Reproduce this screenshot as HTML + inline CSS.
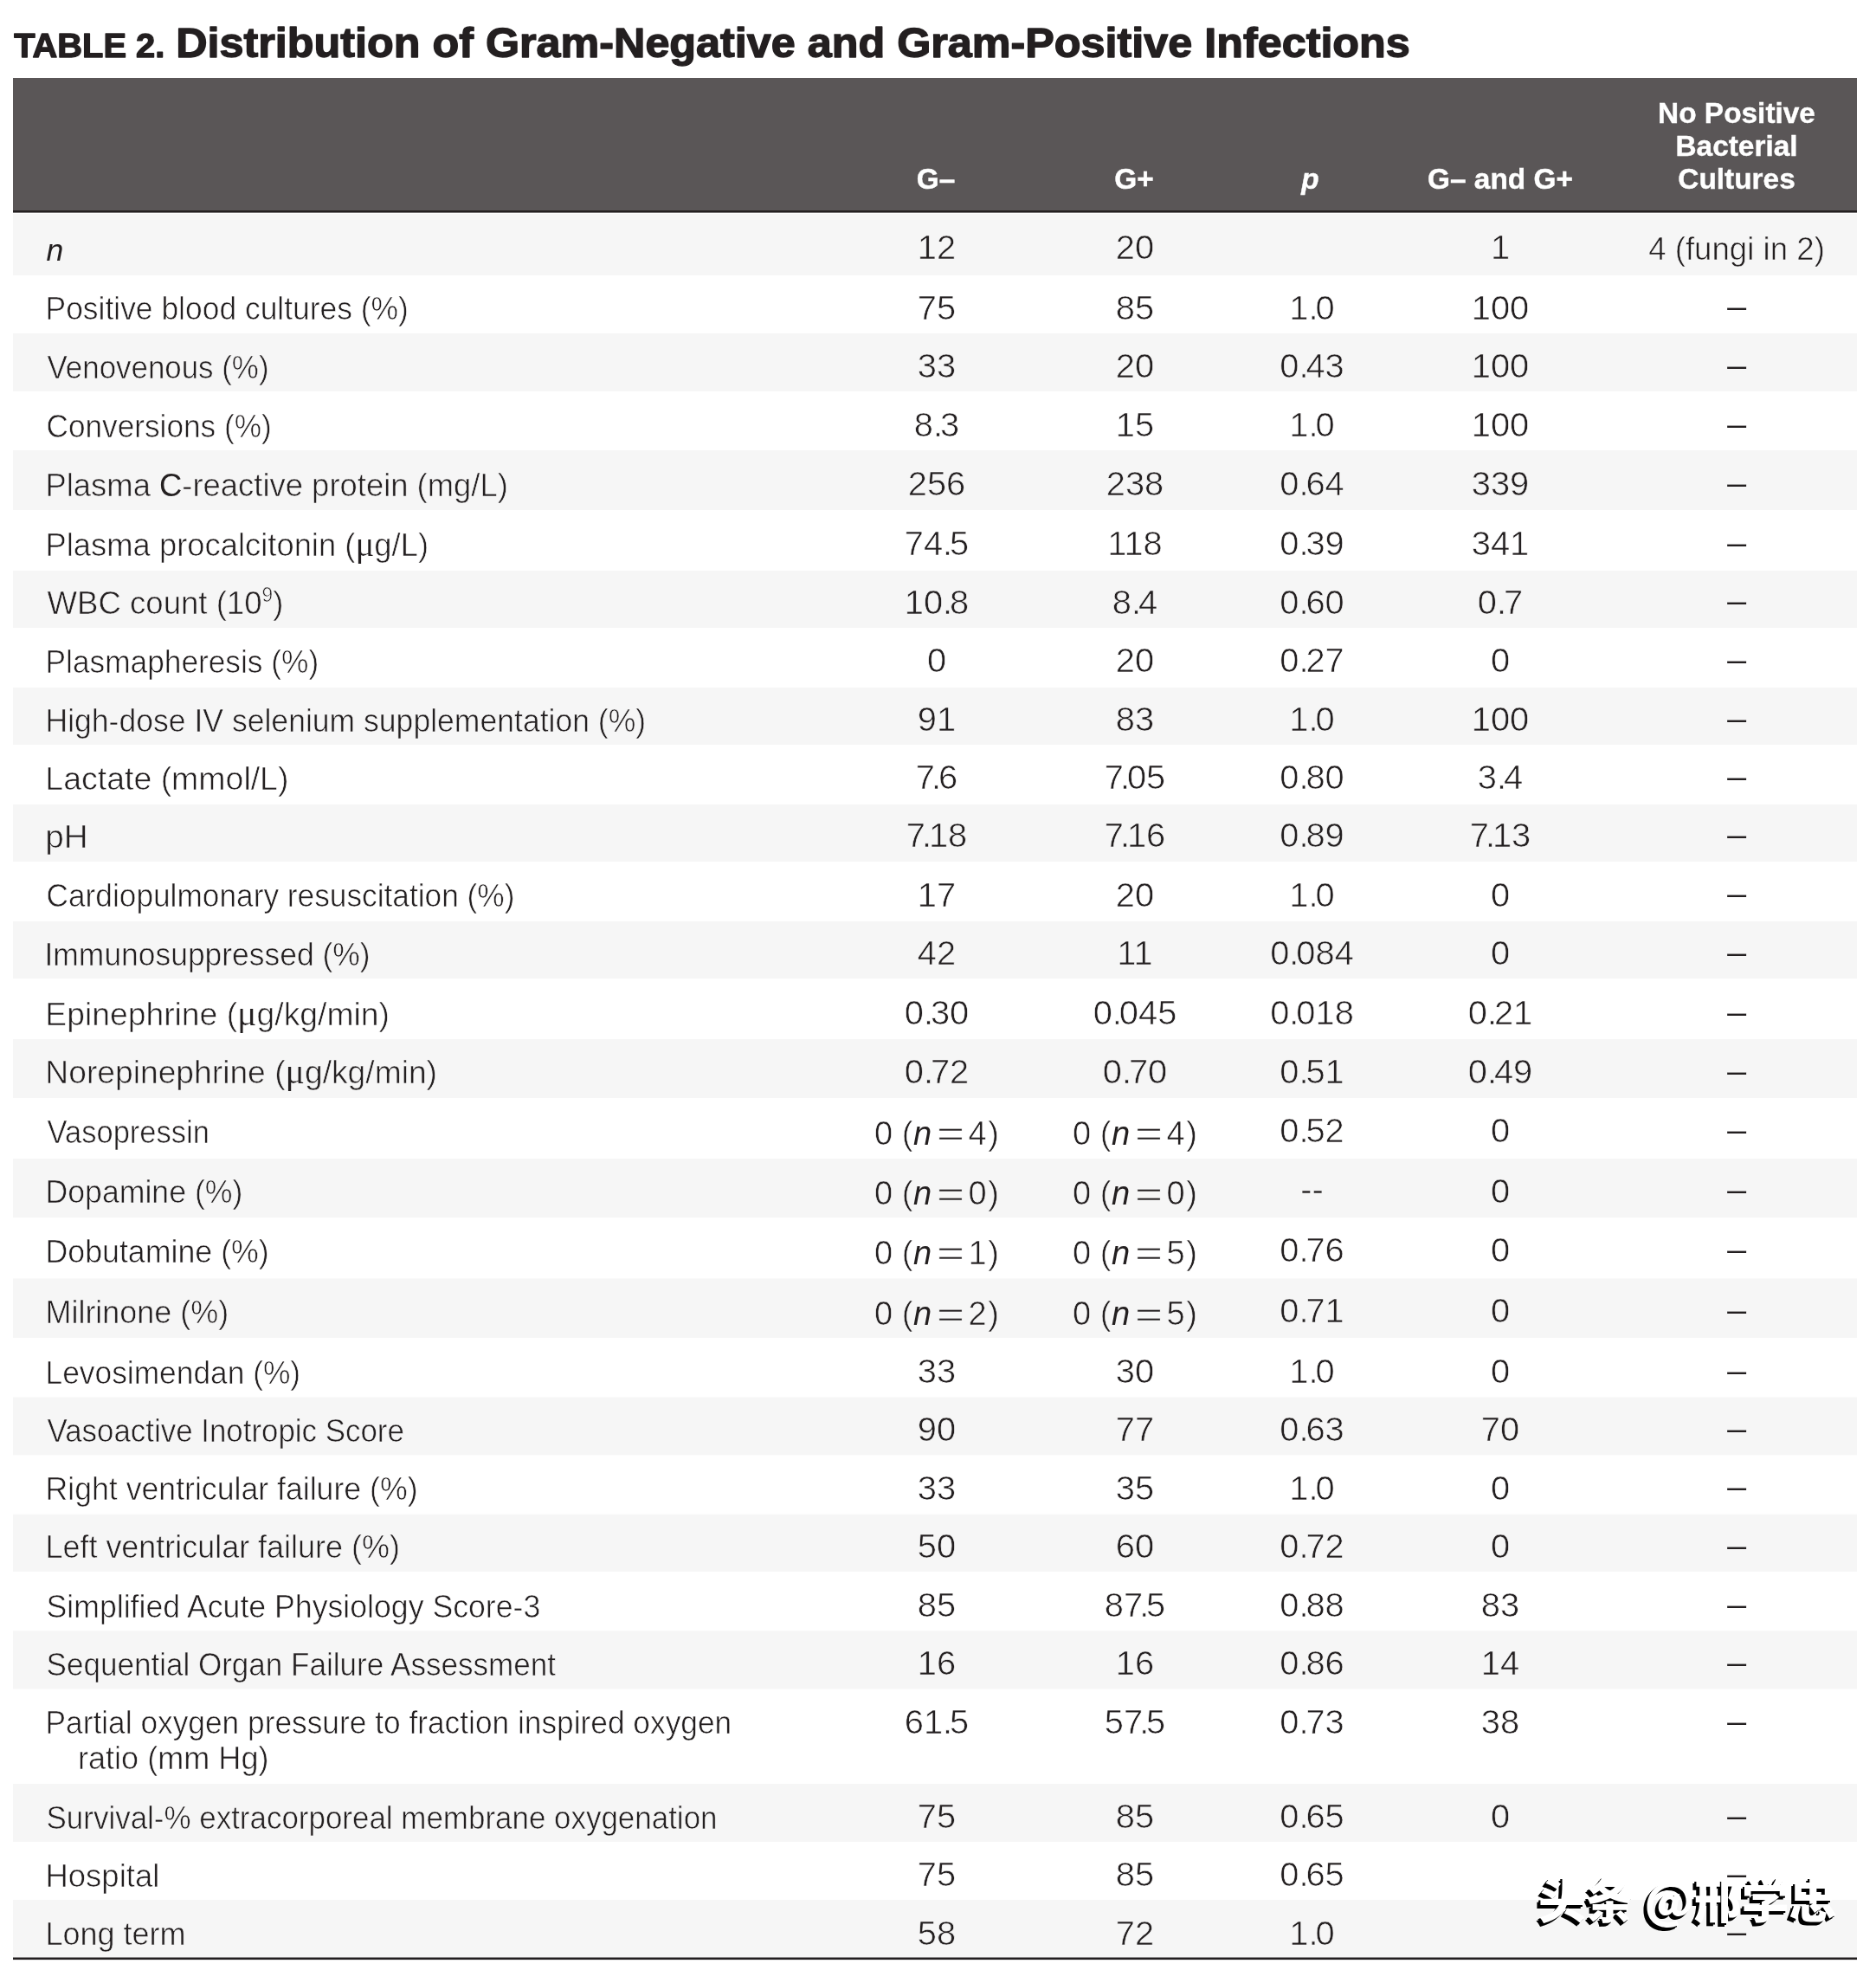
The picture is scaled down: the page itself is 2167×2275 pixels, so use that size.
<!DOCTYPE html>
<html><head><meta charset="utf-8"><title>Table 2. Distribution of Gram-Negative and Gram-Positive Infections</title>
<style>
html,body{margin:0;padding:0;background:#fff;}
body{width:2167px;height:2275px;overflow:hidden;}
svg{display:block;will-change:transform;}
text{font-family:"Liberation Sans",Arial,sans-serif;fill:#231f20;}
.b{font-size:35.6px;}
.h{font-size:33.4px;font-weight:bold;fill:#fff;stroke:#fff;stroke-width:0.4px;}
.wm{font-family:"Noto Sans CJK SC","WenQuanYi Zen Hei",sans-serif;}
</style></head><body>
<svg width="2167" height="2275" viewBox="0 0 2167 2275">
<rect x="0" y="0" width="2167" height="2275" fill="#fff"/>
<g stroke="#231f20" stroke-width="1.4" stroke-linejoin="round">
<text transform="translate(16.2 65.8) scale(1.006 1)" font-weight="bold" font-size="39.6">TABLE 2.</text>
<text transform="translate(203.2 65.9) scale(1.0375 1)" font-weight="bold" font-size="48.5">Distribution of Gram-Negative and Gram-Positive Infections</text>
</g>
<rect x="15" y="90" width="2130" height="154" fill="#5a5657"/>
<rect x="15" y="243" width="2130" height="2.6" fill="#231f20"/>
<text class="h" x="1081" y="218.1" text-anchor="middle">G–</text>
<text class="h" x="1310" y="218.1" text-anchor="middle">G+</text>
<text class="h" x="1513.5" y="218.1" text-anchor="middle" font-style="italic">p</text>
<text class="h" x="1733" y="218.1" text-anchor="middle">G– and G+</text>
<text class="h" x="2006" y="142.3" text-anchor="middle">No Positive</text>
<text class="h" x="2006" y="180.1" text-anchor="middle">Bacterial</text>
<text class="h" x="2006" y="218.1" text-anchor="middle">Cultures</text>
<rect x="15" y="246.8" width="2130" height="71.2" fill="#f6f6f6"/>
<rect x="15" y="385" width="2130" height="67.0" fill="#f6f6f6"/>
<rect x="15" y="520" width="2130" height="69.0" fill="#f6f6f6"/>
<rect x="15" y="659" width="2130" height="66.0" fill="#f6f6f6"/>
<rect x="15" y="794" width="2130" height="66.0" fill="#f6f6f6"/>
<rect x="15" y="929" width="2130" height="66.0" fill="#f6f6f6"/>
<rect x="15" y="1064" width="2130" height="66.0" fill="#f6f6f6"/>
<rect x="15" y="1200" width="2130" height="68.0" fill="#f6f6f6"/>
<rect x="15" y="1338" width="2130" height="68.0" fill="#f6f6f6"/>
<rect x="15" y="1476.5" width="2130" height="68.5" fill="#f6f6f6"/>
<rect x="15" y="1613.6" width="2130" height="66.7" fill="#f6f6f6"/>
<rect x="15" y="1748.8" width="2130" height="66.0" fill="#f6f6f6"/>
<rect x="15" y="1883.4" width="2130" height="67.0" fill="#f6f6f6"/>
<rect x="15" y="2060" width="2130" height="67.0" fill="#f6f6f6"/>
<rect x="15" y="2194" width="2130" height="66.4" fill="#f6f6f6"/>
<rect x="15" y="2260.5" width="2130" height="2.6" fill="#231f20"/>
<g stroke="#f6f6f6" stroke-width="0.6">
<text class="b" transform="translate(53.53 300.8) scale(1 1)" stroke-width="0"><tspan font-style="italic">n</tspan></text>
<text class="b" transform="translate(1082 299.2) scale(1.12 1.09)" text-anchor="middle">12</text>
<text class="b" transform="translate(1311 299.2) scale(1.12 1.09)" text-anchor="middle">20</text>
<text class="b" transform="translate(1733 299.2) scale(1.12 1.09)" text-anchor="middle">1</text>
<text class="b" transform="translate(2006 299.8) scale(1.03 1.06)" text-anchor="middle">4 (fungi in 2)</text>
</g>
<g stroke="#fff" stroke-width="0.6">
<text class="b" transform="translate(52.51 369.20000000000005) scale(0.9955 1.06)">Positive blood cultures (%)</text>
<text class="b" transform="translate(1082 368.6) scale(1.12 1.09)" text-anchor="middle">75</text>
<text class="b" transform="translate(1311 368.6) scale(1.12 1.09)" text-anchor="middle">85</text>
<text class="b" transform="translate(1515.5 368.6) scale(1.12 1.09)" text-anchor="middle">1.<tspan dx="-2.8">0</tspan></text>
<text class="b" transform="translate(1733 368.6) scale(1.12 1.09)" text-anchor="middle">100</text>
<text class="b" transform="translate(2006 367.40000000000003) scale(1.12 1.09)" text-anchor="middle" stroke-width="0.2">–</text>
</g>
<g stroke="#f6f6f6" stroke-width="0.6">
<text class="b" transform="translate(54.52 437.0) scale(0.9805 1.06)">Venovenous (%)</text>
<text class="b" transform="translate(1082 436.4) scale(1.12 1.09)" text-anchor="middle">33</text>
<text class="b" transform="translate(1311 436.4) scale(1.12 1.09)" text-anchor="middle">20</text>
<text class="b" transform="translate(1515.5 436.4) scale(1.12 1.09)" text-anchor="middle">0.<tspan dx="-2.8">43</tspan></text>
<text class="b" transform="translate(1733 436.4) scale(1.12 1.09)" text-anchor="middle">100</text>
<text class="b" transform="translate(2006 435.2) scale(1.12 1.09)" text-anchor="middle" stroke-width="0.2">–</text>
</g>
<g stroke="#fff" stroke-width="0.6">
<text class="b" transform="translate(53.52 504.8) scale(0.9892 1.06)">Conversions (%)</text>
<text class="b" transform="translate(1082 504.2) scale(1.12 1.09)" text-anchor="middle">8.<tspan dx="-2.8">3</tspan></text>
<text class="b" transform="translate(1311 504.2) scale(1.12 1.09)" text-anchor="middle">15</text>
<text class="b" transform="translate(1515.5 504.2) scale(1.12 1.09)" text-anchor="middle">1.<tspan dx="-2.8">0</tspan></text>
<text class="b" transform="translate(1733 504.2) scale(1.12 1.09)" text-anchor="middle">100</text>
<text class="b" transform="translate(2006 503.0) scale(1.12 1.09)" text-anchor="middle" stroke-width="0.2">–</text>
</g>
<g stroke="#f6f6f6" stroke-width="0.6">
<text class="b" transform="translate(52.43 572.9) scale(1.0236 1.06)">Plasma <tspan stroke-width="0">C</tspan>-reactive protein (mg/L)</text>
<text class="b" transform="translate(1082 572.3) scale(1.12 1.09)" text-anchor="middle">256</text>
<text class="b" transform="translate(1311 572.3) scale(1.12 1.09)" text-anchor="middle">238</text>
<text class="b" transform="translate(1515.5 572.3) scale(1.12 1.09)" text-anchor="middle">0.<tspan dx="-2.8">64</tspan></text>
<text class="b" transform="translate(1733 572.3) scale(1.12 1.09)" text-anchor="middle">339</text>
<text class="b" transform="translate(2006 571.1) scale(1.12 1.09)" text-anchor="middle" stroke-width="0.2">–</text>
</g>
<g stroke="#fff" stroke-width="0.6">
<text class="b" transform="translate(52.44 641.5) scale(1.0225 1.06)">Plasma procalcitonin (<tspan font-family="Liberation Serif" font-size="40" stroke-width="0.2">μ</tspan>g/L)</text>
<text class="b" transform="translate(1082 640.9) scale(1.12 1.09)" text-anchor="middle">74.<tspan dx="-2.8">5</tspan></text>
<text class="b" transform="translate(1311 640.9) scale(1.12 1.09)" text-anchor="middle">118</text>
<text class="b" transform="translate(1515.5 640.9) scale(1.12 1.09)" text-anchor="middle">0.<tspan dx="-2.8">39</tspan></text>
<text class="b" transform="translate(1733 640.9) scale(1.12 1.09)" text-anchor="middle">341</text>
<text class="b" transform="translate(2006 639.7) scale(1.12 1.09)" text-anchor="middle" stroke-width="0.2">–</text>
</g>
<g stroke="#f6f6f6" stroke-width="0.6">
<text class="b" transform="translate(54.47 709.2) scale(1.0283 1.06)">WBC count (10<tspan font-size="22" dy="-13">9</tspan><tspan dy="13">)</tspan></text>
<text class="b" transform="translate(1082 708.6) scale(1.12 1.09)" text-anchor="middle">10.<tspan dx="-2.8">8</tspan></text>
<text class="b" transform="translate(1311 708.6) scale(1.12 1.09)" text-anchor="middle">8.<tspan dx="-2.8">4</tspan></text>
<text class="b" transform="translate(1515.5 708.6) scale(1.12 1.09)" text-anchor="middle">0.<tspan dx="-2.8">60</tspan></text>
<text class="b" transform="translate(1733 708.6) scale(1.12 1.09)" text-anchor="middle">0.<tspan dx="-2.8">7</tspan></text>
<text class="b" transform="translate(2006 707.4000000000001) scale(1.12 1.09)" text-anchor="middle" stroke-width="0.2">–</text>
</g>
<g stroke="#fff" stroke-width="0.6">
<text class="b" transform="translate(52.53 776.6) scale(0.9913 1.06)">Plasmapheresis (%)</text>
<text class="b" transform="translate(1082 776.0) scale(1.12 1.09)" text-anchor="middle">0</text>
<text class="b" transform="translate(1311 776.0) scale(1.12 1.09)" text-anchor="middle">20</text>
<text class="b" transform="translate(1515.5 776.0) scale(1.12 1.09)" text-anchor="middle">0.<tspan dx="-2.8">27</tspan></text>
<text class="b" transform="translate(1733 776.0) scale(1.12 1.09)" text-anchor="middle">0</text>
<text class="b" transform="translate(2006 774.8000000000001) scale(1.12 1.09)" text-anchor="middle" stroke-width="0.2">–</text>
</g>
<g stroke="#f6f6f6" stroke-width="0.6">
<text class="b" transform="translate(52.49 844.5) scale(0.999 1.06)">High-dose IV selenium supplementation (%)</text>
<text class="b" transform="translate(1082 843.9) scale(1.12 1.09)" text-anchor="middle">91</text>
<text class="b" transform="translate(1311 843.9) scale(1.12 1.09)" text-anchor="middle">83</text>
<text class="b" transform="translate(1515.5 843.9) scale(1.12 1.09)" text-anchor="middle">1.<tspan dx="-2.8">0</tspan></text>
<text class="b" transform="translate(1733 843.9) scale(1.12 1.09)" text-anchor="middle">100</text>
<text class="b" transform="translate(2006 842.7) scale(1.12 1.09)" text-anchor="middle" stroke-width="0.2">–</text>
</g>
<g stroke="#fff" stroke-width="0.6">
<text class="b" transform="translate(52.33 911.6) scale(1.0529 1.06)">Lactate (mmol/L)</text>
<text class="b" transform="translate(1082 911.0) scale(1.12 1.09)" text-anchor="middle">7<tspan dx="-3.5">.</tspan><tspan dx="-2.8">6</tspan></text>
<text class="b" transform="translate(1311 911.0) scale(1.12 1.09)" text-anchor="middle">7<tspan dx="-3.5">.</tspan><tspan dx="-2.8">05</tspan></text>
<text class="b" transform="translate(1515.5 911.0) scale(1.12 1.09)" text-anchor="middle">0.<tspan dx="-2.8">80</tspan></text>
<text class="b" transform="translate(1733 911.0) scale(1.12 1.09)" text-anchor="middle">3.<tspan dx="-2.8">4</tspan></text>
<text class="b" transform="translate(2006 909.8000000000001) scale(1.12 1.09)" text-anchor="middle" stroke-width="0.2">–</text>
</g>
<g stroke="#f6f6f6" stroke-width="0.6">
<text class="b" transform="translate(52.23 979.0) scale(1.0878 1.06)">pH</text>
<text class="b" transform="translate(1082 978.4) scale(1.12 1.09)" text-anchor="middle">7<tspan dx="-3.5">.</tspan><tspan dx="-2.8">18</tspan></text>
<text class="b" transform="translate(1311 978.4) scale(1.12 1.09)" text-anchor="middle">7<tspan dx="-3.5">.</tspan><tspan dx="-2.8">16</tspan></text>
<text class="b" transform="translate(1515.5 978.4) scale(1.12 1.09)" text-anchor="middle">0.<tspan dx="-2.8">89</tspan></text>
<text class="b" transform="translate(1733 978.4) scale(1.12 1.09)" text-anchor="middle">7<tspan dx="-3.5">.</tspan><tspan dx="-2.8">13</tspan></text>
<text class="b" transform="translate(2006 977.2) scale(1.12 1.09)" text-anchor="middle" stroke-width="0.2">–</text>
</g>
<g stroke="#fff" stroke-width="0.6">
<text class="b" transform="translate(53.52 1047.1) scale(0.9908 1.06)">Cardiopulmonary resuscitation (%)</text>
<text class="b" transform="translate(1082 1046.5) scale(1.12 1.09)" text-anchor="middle">17</text>
<text class="b" transform="translate(1311 1046.5) scale(1.12 1.09)" text-anchor="middle">20</text>
<text class="b" transform="translate(1515.5 1046.5) scale(1.12 1.09)" text-anchor="middle">1.<tspan dx="-2.8">0</tspan></text>
<text class="b" transform="translate(1733 1046.5) scale(1.12 1.09)" text-anchor="middle">0</text>
<text class="b" transform="translate(2006 1045.3) scale(1.12 1.09)" text-anchor="middle" stroke-width="0.2">–</text>
</g>
<g stroke="#f6f6f6" stroke-width="0.6">
<text class="b" transform="translate(51.52 1114.6) scale(0.9955 1.06)">Immunosuppressed (%)</text>
<text class="b" transform="translate(1082 1114.0) scale(1.12 1.09)" text-anchor="middle">42</text>
<text class="b" transform="translate(1311 1114.0) scale(1.12 1.09)" text-anchor="middle">11</text>
<text class="b" transform="translate(1515.5 1114.0) scale(1.12 1.09)" text-anchor="middle">0.<tspan dx="-2.8">084</tspan></text>
<text class="b" transform="translate(1733 1114.0) scale(1.12 1.09)" text-anchor="middle">0</text>
<text class="b" transform="translate(2006 1112.8) scale(1.12 1.09)" text-anchor="middle" stroke-width="0.2">–</text>
</g>
<g stroke="#fff" stroke-width="0.6">
<text class="b" transform="translate(52.35 1183.6) scale(1.0477 1.06)">Epinephrine (<tspan font-family="Liberation Serif" font-size="40" stroke-width="0.2">μ</tspan>g/kg/min)</text>
<text class="b" transform="translate(1082 1183.0) scale(1.12 1.09)" text-anchor="middle">0.<tspan dx="-2.8">30</tspan></text>
<text class="b" transform="translate(1311 1183.0) scale(1.12 1.09)" text-anchor="middle">0.<tspan dx="-2.8">045</tspan></text>
<text class="b" transform="translate(1515.5 1183.0) scale(1.12 1.09)" text-anchor="middle">0.<tspan dx="-2.8">018</tspan></text>
<text class="b" transform="translate(1733 1183.0) scale(1.12 1.09)" text-anchor="middle">0.<tspan dx="-2.8">21</tspan></text>
<text class="b" transform="translate(2006 1181.8) scale(1.12 1.09)" text-anchor="middle" stroke-width="0.2">–</text>
</g>
<g stroke="#f6f6f6" stroke-width="0.6">
<text class="b" transform="translate(52.36 1251.3999999999999) scale(1.0455 1.06)">Norepinephrine (<tspan font-family="Liberation Serif" font-size="40" stroke-width="0.2">μ</tspan>g/kg/min)</text>
<text class="b" transform="translate(1082 1250.8) scale(1.12 1.09)" text-anchor="middle">0.<tspan dx="-2.8">72</tspan></text>
<text class="b" transform="translate(1311 1250.8) scale(1.12 1.09)" text-anchor="middle">0.<tspan dx="-2.8">70</tspan></text>
<text class="b" transform="translate(1515.5 1250.8) scale(1.12 1.09)" text-anchor="middle">0.<tspan dx="-2.8">51</tspan></text>
<text class="b" transform="translate(1733 1250.8) scale(1.12 1.09)" text-anchor="middle">0.<tspan dx="-2.8">49</tspan></text>
<text class="b" transform="translate(2006 1249.6) scale(1.12 1.09)" text-anchor="middle" stroke-width="0.2">–</text>
</g>
<g stroke="#fff" stroke-width="0.6">
<text class="b" transform="translate(54.53 1319.6) scale(0.9695 1.06)">Vasopressin</text>
<text class="b" transform="translate(1082 1321.5) scale(1.07 1.09)" text-anchor="middle">0 (<tspan dx="0.5" font-style="italic" stroke-width="0">n</tspan><tspan dy="1.8" dx="5.5" textLength="30" lengthAdjust="spacingAndGlyphs">=</tspan><tspan dy="-1.8" dx="4">4</tspan><tspan dx="1.5">)</tspan></text>
<text class="b" transform="translate(1311 1321.5) scale(1.07 1.09)" text-anchor="middle">0 (<tspan dx="0.5" font-style="italic" stroke-width="0">n</tspan><tspan dy="1.8" dx="5.5" textLength="30" lengthAdjust="spacingAndGlyphs">=</tspan><tspan dy="-1.8" dx="4">4</tspan><tspan dx="1.5">)</tspan></text>
<text class="b" transform="translate(1515.5 1319.0) scale(1.12 1.09)" text-anchor="middle">0.<tspan dx="-2.8">52</tspan></text>
<text class="b" transform="translate(1733 1319.0) scale(1.12 1.09)" text-anchor="middle">0</text>
<text class="b" transform="translate(2006 1317.8) scale(1.12 1.09)" text-anchor="middle" stroke-width="0.2">–</text>
</g>
<g stroke="#f6f6f6" stroke-width="0.6">
<text class="b" transform="translate(52.5 1389.1999999999998) scale(1.0018 1.06)">Dopamine (%)</text>
<text class="b" transform="translate(1082 1391.1) scale(1.07 1.09)" text-anchor="middle">0 (<tspan dx="0.5" font-style="italic" stroke-width="0">n</tspan><tspan dy="1.8" dx="5.5" textLength="30" lengthAdjust="spacingAndGlyphs">=</tspan><tspan dy="-1.8" dx="4">0</tspan><tspan dx="1.5">)</tspan></text>
<text class="b" transform="translate(1311 1391.1) scale(1.07 1.09)" text-anchor="middle">0 (<tspan dx="0.5" font-style="italic" stroke-width="0">n</tspan><tspan dy="1.8" dx="5.5" textLength="30" lengthAdjust="spacingAndGlyphs">=</tspan><tspan dy="-1.8" dx="4">0</tspan><tspan dx="1.5">)</tspan></text>
<text class="b" transform="translate(1515.5 1386.6) scale(1.12 1.09)" text-anchor="middle">--</text>
<text class="b" transform="translate(1733 1388.6) scale(1.12 1.09)" text-anchor="middle">0</text>
<text class="b" transform="translate(2006 1387.3999999999999) scale(1.12 1.09)" text-anchor="middle" stroke-width="0.2">–</text>
</g>
<g stroke="#fff" stroke-width="0.6">
<text class="b" transform="translate(52.49 1457.6) scale(1.004 1.06)">Dobutamine (%)</text>
<text class="b" transform="translate(1082 1459.5) scale(1.07 1.09)" text-anchor="middle">0 (<tspan dx="0.5" font-style="italic" stroke-width="0">n</tspan><tspan dy="1.8" dx="5.5" textLength="30" lengthAdjust="spacingAndGlyphs">=</tspan><tspan dy="-1.8" dx="4">1</tspan><tspan dx="1.5">)</tspan></text>
<text class="b" transform="translate(1311 1459.5) scale(1.07 1.09)" text-anchor="middle">0 (<tspan dx="0.5" font-style="italic" stroke-width="0">n</tspan><tspan dy="1.8" dx="5.5" textLength="30" lengthAdjust="spacingAndGlyphs">=</tspan><tspan dy="-1.8" dx="4">5</tspan><tspan dx="1.5">)</tspan></text>
<text class="b" transform="translate(1515.5 1457.0) scale(1.12 1.09)" text-anchor="middle">0.<tspan dx="-2.8">76</tspan></text>
<text class="b" transform="translate(1733 1457.0) scale(1.12 1.09)" text-anchor="middle">0</text>
<text class="b" transform="translate(2006 1455.8) scale(1.12 1.09)" text-anchor="middle" stroke-width="0.2">–</text>
</g>
<g stroke="#f6f6f6" stroke-width="0.6">
<text class="b" transform="translate(52.47 1527.8999999999999) scale(1.0098 1.06)">Milrinone (%)</text>
<text class="b" transform="translate(1082 1529.8) scale(1.07 1.09)" text-anchor="middle">0 (<tspan dx="0.5" font-style="italic" stroke-width="0">n</tspan><tspan dy="1.8" dx="5.5" textLength="30" lengthAdjust="spacingAndGlyphs">=</tspan><tspan dy="-1.8" dx="4">2</tspan><tspan dx="1.5">)</tspan></text>
<text class="b" transform="translate(1311 1529.8) scale(1.07 1.09)" text-anchor="middle">0 (<tspan dx="0.5" font-style="italic" stroke-width="0">n</tspan><tspan dy="1.8" dx="5.5" textLength="30" lengthAdjust="spacingAndGlyphs">=</tspan><tspan dy="-1.8" dx="4">5</tspan><tspan dx="1.5">)</tspan></text>
<text class="b" transform="translate(1515.5 1527.3) scale(1.12 1.09)" text-anchor="middle">0.<tspan dx="-2.8">71</tspan></text>
<text class="b" transform="translate(1733 1527.3) scale(1.12 1.09)" text-anchor="middle">0</text>
<text class="b" transform="translate(2006 1526.1) scale(1.12 1.09)" text-anchor="middle" stroke-width="0.2">–</text>
</g>
<g stroke="#fff" stroke-width="0.6">
<text class="b" transform="translate(52.52 1597.6) scale(0.9931 1.06)">Levosimendan (%)</text>
<text class="b" transform="translate(1082 1597.0) scale(1.12 1.09)" text-anchor="middle">33</text>
<text class="b" transform="translate(1311 1597.0) scale(1.12 1.09)" text-anchor="middle">30</text>
<text class="b" transform="translate(1515.5 1597.0) scale(1.12 1.09)" text-anchor="middle">1.<tspan dx="-2.8">0</tspan></text>
<text class="b" transform="translate(1733 1597.0) scale(1.12 1.09)" text-anchor="middle">0</text>
<text class="b" transform="translate(2006 1595.8) scale(1.12 1.09)" text-anchor="middle" stroke-width="0.2">–</text>
</g>
<g stroke="#f6f6f6" stroke-width="0.6">
<text class="b" transform="translate(54.52 1664.8999999999999) scale(0.9802 1.06)">Vasoactive Inotropic Score</text>
<text class="b" transform="translate(1082 1664.3) scale(1.12 1.09)" text-anchor="middle">90</text>
<text class="b" transform="translate(1311 1664.3) scale(1.12 1.09)" text-anchor="middle">77</text>
<text class="b" transform="translate(1515.5 1664.3) scale(1.12 1.09)" text-anchor="middle">0.<tspan dx="-2.8">63</tspan></text>
<text class="b" transform="translate(1733 1664.3) scale(1.12 1.09)" text-anchor="middle">70</text>
<text class="b" transform="translate(2006 1663.1) scale(1.12 1.09)" text-anchor="middle" stroke-width="0.2">–</text>
</g>
<g stroke="#fff" stroke-width="0.6">
<text class="b" transform="translate(52.49 1732.1999999999998) scale(1.0021 1.06)">Right ventricular failure (%)</text>
<text class="b" transform="translate(1082 1731.6) scale(1.12 1.09)" text-anchor="middle">33</text>
<text class="b" transform="translate(1311 1731.6) scale(1.12 1.09)" text-anchor="middle">35</text>
<text class="b" transform="translate(1515.5 1731.6) scale(1.12 1.09)" text-anchor="middle">1.<tspan dx="-2.8">0</tspan></text>
<text class="b" transform="translate(1733 1731.6) scale(1.12 1.09)" text-anchor="middle">0</text>
<text class="b" transform="translate(2006 1730.3999999999999) scale(1.12 1.09)" text-anchor="middle" stroke-width="0.2">–</text>
</g>
<g stroke="#f6f6f6" stroke-width="0.6">
<text class="b" transform="translate(52.46 1799.3999999999999) scale(1.0095 1.06)">Left ventricular failure (%)</text>
<text class="b" transform="translate(1082 1798.8) scale(1.12 1.09)" text-anchor="middle">50</text>
<text class="b" transform="translate(1311 1798.8) scale(1.12 1.09)" text-anchor="middle">60</text>
<text class="b" transform="translate(1515.5 1798.8) scale(1.12 1.09)" text-anchor="middle">0.<tspan dx="-2.8">72</tspan></text>
<text class="b" transform="translate(1733 1798.8) scale(1.12 1.09)" text-anchor="middle">0</text>
<text class="b" transform="translate(2006 1797.6) scale(1.12 1.09)" text-anchor="middle" stroke-width="0.2">–</text>
</g>
<g stroke="#fff" stroke-width="0.6">
<text class="b" transform="translate(53.49 1868.0) scale(1.002 1.06)">Simplified Acute Physiology Score-3</text>
<text class="b" transform="translate(1082 1867.4) scale(1.12 1.09)" text-anchor="middle">85</text>
<text class="b" transform="translate(1311 1867.4) scale(1.12 1.09)" text-anchor="middle">87<tspan dx="-3.5">.</tspan><tspan dx="-2.8">5</tspan></text>
<text class="b" transform="translate(1515.5 1867.4) scale(1.12 1.09)" text-anchor="middle">0.<tspan dx="-2.8">88</tspan></text>
<text class="b" transform="translate(1733 1867.4) scale(1.12 1.09)" text-anchor="middle">83</text>
<text class="b" transform="translate(2006 1866.2) scale(1.12 1.09)" text-anchor="middle" stroke-width="0.2">–</text>
</g>
<g stroke="#f6f6f6" stroke-width="0.6">
<text class="b" transform="translate(53.54 1934.6) scale(0.9852 1.06)">Sequential Organ Failure Assessment</text>
<text class="b" transform="translate(1082 1934.0) scale(1.12 1.09)" text-anchor="middle">16</text>
<text class="b" transform="translate(1311 1934.0) scale(1.12 1.09)" text-anchor="middle">16</text>
<text class="b" transform="translate(1515.5 1934.0) scale(1.12 1.09)" text-anchor="middle">0.<tspan dx="-2.8">86</tspan></text>
<text class="b" transform="translate(1733 1934.0) scale(1.12 1.09)" text-anchor="middle">14</text>
<text class="b" transform="translate(2006 1932.8) scale(1.12 1.09)" text-anchor="middle" stroke-width="0.2">–</text>
</g>
<g stroke="#fff" stroke-width="0.6">
<text class="b" transform="translate(52.53 2002.3999999999999) scale(0.9918 1.06)">Partial oxygen pressure to fraction inspired oxygen</text>
<text class="b" transform="translate(1082 2001.8) scale(1.12 1.09)" text-anchor="middle">61.<tspan dx="-2.8">5</tspan></text>
<text class="b" transform="translate(1311 2001.8) scale(1.12 1.09)" text-anchor="middle">57<tspan dx="-3.5">.</tspan><tspan dx="-2.8">5</tspan></text>
<text class="b" transform="translate(1515.5 2001.8) scale(1.12 1.09)" text-anchor="middle">0.<tspan dx="-2.8">73</tspan></text>
<text class="b" transform="translate(1733 2001.8) scale(1.12 1.09)" text-anchor="middle">38</text>
<text class="b" transform="translate(2006 2000.6) scale(1.12 1.09)" text-anchor="middle" stroke-width="0.2">–</text>
</g>
<g stroke="#f6f6f6" stroke-width="0.6">
<text class="b" transform="translate(53.55 2111.6) scale(0.9819 1.06)">Survival-% extracorporeal membrane oxygenation</text>
<text class="b" transform="translate(1082 2111.0) scale(1.12 1.09)" text-anchor="middle">75</text>
<text class="b" transform="translate(1311 2111.0) scale(1.12 1.09)" text-anchor="middle">85</text>
<text class="b" transform="translate(1515.5 2111.0) scale(1.12 1.09)" text-anchor="middle">0.<tspan dx="-2.8">65</tspan></text>
<text class="b" transform="translate(1733 2111.0) scale(1.12 1.09)" text-anchor="middle">0</text>
<text class="b" transform="translate(2006 2109.7999999999997) scale(1.12 1.09)" text-anchor="middle" stroke-width="0.2">–</text>
</g>
<g stroke="#fff" stroke-width="0.6">
<text class="b" transform="translate(52.42 2178.9) scale(1.0261 1.06)">Hospital</text>
<text class="b" transform="translate(1082 2178.3) scale(1.12 1.09)" text-anchor="middle">75</text>
<text class="b" transform="translate(1311 2178.3) scale(1.12 1.09)" text-anchor="middle">85</text>
<text class="b" transform="translate(1515.5 2178.3) scale(1.12 1.09)" text-anchor="middle">0.<tspan dx="-2.8">65</tspan></text>
<text class="b" transform="translate(2006 2177.1) scale(1.12 1.09)" text-anchor="middle" stroke-width="0.2">–</text>
</g>
<g stroke="#f6f6f6" stroke-width="0.6">
<text class="b" transform="translate(52.47 2246.1) scale(1.0117 1.06)">Long term</text>
<text class="b" transform="translate(1082 2245.5) scale(1.12 1.09)" text-anchor="middle">58</text>
<text class="b" transform="translate(1311 2245.5) scale(1.12 1.09)" text-anchor="middle">72</text>
<text class="b" transform="translate(1515.5 2245.5) scale(1.12 1.09)" text-anchor="middle">1.<tspan dx="-2.8">0</tspan></text>
<text class="b" transform="translate(2006 2244.2999999999997) scale(1.12 1.09)" text-anchor="middle" stroke-width="0.2">–</text>
</g>
<g stroke="#fff" stroke-width="0.6"><text class="b" transform="translate(89.96 2042.8) scale(1.0142 1.06)">ratio (mm Hg)</text></g>
<text class="wm" x="1777" y="2215" font-size="55" font-weight="900" style="fill:#fff;filter:drop-shadow(-1.1px 2.0px 0 #000) drop-shadow(-1.1px 2.0px 0 #000)">头条 @邢学忠</text>
</svg></body></html>
